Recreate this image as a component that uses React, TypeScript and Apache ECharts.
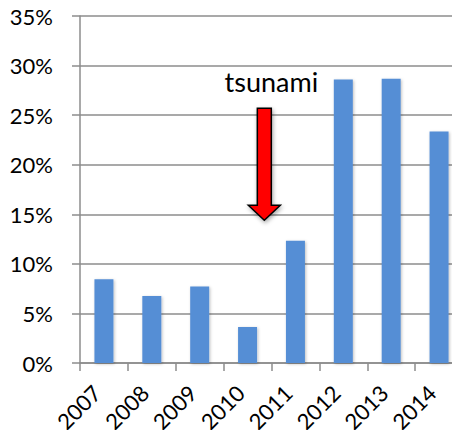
import React, { useEffect, useRef } from "react";
import * as echarts from "echarts";

const years = ["2007", "2008", "2009", "2010", "2011", "2012", "2013", "2014"];
const shares = [0.0846, 0.0675, 0.0772, 0.0363, 0.1234, 0.286, 0.2867, 0.2335];
const yTicks = { min: 0, max: 0.35, interval: 0.05 };
const annotation = { label: "tsunami", year: "2010", top: 0.257, tip: 0.144 };

const FONT = "Lato, 'Open Sans', sans-serif";
const GRAY = "#8c8c8c";

export default function App() {
  const ref = useRef<HTMLDivElement>(null);
  useEffect(() => {
    if (!ref.current) return;
    const chart = echarts.init(ref.current, undefined, { renderer: "svg" });
    chart.setOption({
      animation: false,
      textStyle: { fontFamily: FONT },
      grid: {
        left: 80,
        top: 16,
        width: 383,
        bottom: 75,
        containLabel: false,
        outerBoundsMode: "none",
      },
      xAxis: {
        type: "category",
        data: years,
        boundaryGap: true,
        axisLine: { lineStyle: { color: GRAY, width: 1.5 } },
        axisTick: { show: true, length: 8, lineStyle: { color: GRAY, width: 1.5 } },
        axisLabel: {
          rotate: 45,
          margin: 19,
          padding: [0, 10, 0, 0],
          fontSize: 22,
          color: "#000",
          fontFamily: FONT,
        },
      },
      yAxis: {
        type: "value",
        min: yTicks.min,
        max: yTicks.max,
        interval: yTicks.interval,
        axisLine: { show: true, lineStyle: { color: GRAY, width: 1.5 } },
        axisTick: { show: true, length: 8, lineStyle: { color: GRAY, width: 1.5 } },
        splitLine: { show: true, lineStyle: { color: GRAY, width: 1.5 } },
        axisLabel: {
          margin: 27,
          fontSize: 22,
          color: "#000",
          fontFamily: FONT,
          formatter: (v: number) => `${Math.round(v * 100)}%`,
        },
      },
      series: [
        {
          type: "bar",
          data: shares,
          barWidth: 19,
          itemStyle: {
            color: "#558ED5",
            shadowColor: "rgba(0,0,0,0.25)",
            shadowBlur: 3,
            shadowOffsetX: 1,
            shadowOffsetY: 1,
          },
        },
      ],
    });

    const idx = years.indexOf(annotation.year);
    const c0 = chart.convertToPixel({ xAxisIndex: 0 }, idx) as number;
    const c1 = chart.convertToPixel({ xAxisIndex: 0 }, idx + 1) as number;
    const ax = c0 + (c1 - c0) * 0.35;
    const yTop = chart.convertToPixel({ yAxisIndex: 0 }, annotation.top) as number;
    const yTip = chart.convertToPixel({ yAxisIndex: 0 }, annotation.tip) as number;
    const sw = 7;
    const hw = 16;
    const hh = 15;
    chart.setOption({
      graphic: [
        {
          type: "polygon",
          shape: {
            points: [
              [ax - sw, yTop],
              [ax + sw, yTop],
              [ax + sw, yTip - hh],
              [ax + hw, yTip - hh],
              [ax, yTip],
              [ax - hw, yTip - hh],
              [ax - sw, yTip - hh],
            ],
          },
          style: {
            fill: "#ff0000",
            stroke: "#000",
            lineWidth: 1.5,
            shadowColor: "rgba(0,0,0,0.35)",
            shadowBlur: 4,
            shadowOffsetX: 1,
            shadowOffsetY: 2,
          },
          z: 100,
        },
        {
          type: "text",
          x: ax + 7,
          y: yTop - 13,
          style: {
            text: annotation.label,
            fontSize: 27,
            fontFamily: FONT,
            fill: "#000",
            textAlign: "center",
            textVerticalAlign: "bottom",
          },
          z: 100,
        },
      ],
    });
    return () => chart.dispose();
  }, []);
  return <div ref={ref} style={{ width: 460, height: 438, margin: -8 }} />;
}
